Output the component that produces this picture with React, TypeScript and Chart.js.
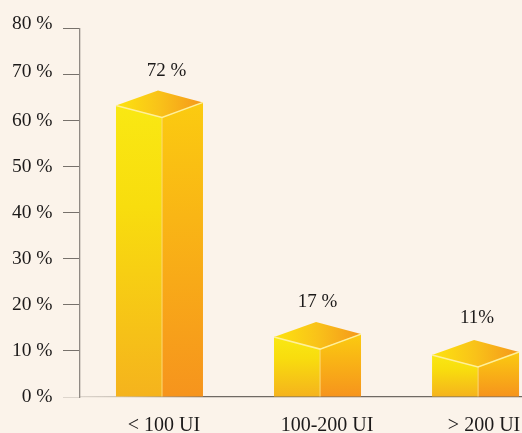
import React, { useEffect, useRef } from "react";
import { Chart, registerables } from "chart.js";

Chart.register(...registerables);

const categories = ["< 100 UI", "100-200 UI", "> 200 UI"];
const categoryIndex = [0, 1, 2];
const drawnHeights = [60.7, 10.4, 6.5];
const valueLabels = ["72 %", "17 %", "11%"];
const yTicks = [0, 10, 20, 30, 40, 50, 60, 70, 80];

const BG = "#fbf3ea";
const TEXT = "#1c1a1a";
const FONT = "'Liberation Serif', serif";

const labelShift = [
  { x: 7, y: 19 },
  { x: 0, y: 20 },
  { x: 1.5, y: 22 },
];

const prism = {
  id: "prism",
  afterDatasetsDraw(chart: any) {
    const { ctx } = chart;
    chart.getDatasetMeta(0).data.forEach((bar: any, i: number) => {
      const left = bar.x - bar.width / 2;
      const right = bar.x + bar.width / 2;
      const ridge = left + bar.width * 0.529;
      const y = bar.y;
      const base = bar.base;
      const leftY = y - 12;
      const rightY = y - 15;
      const backX = ridge - 4;
      const backY = y - 27;

      const poly = (pts: number[][], fill: any) => {
        ctx.beginPath();
        pts.forEach((p, k) => (k ? ctx.lineTo(p[0], p[1]) : ctx.moveTo(p[0], p[1])));
        ctx.closePath();
        ctx.fillStyle = fill;
        ctx.fill();
      };

      ctx.save();
      const gf = ctx.createLinearGradient(0, leftY, 0, base);
      gf.addColorStop(0, "#f9e813");
      gf.addColorStop(0.35, "#f8dd0e");
      gf.addColorStop(1, "#f5b31d");
      poly([[left, leftY], [ridge, y], [ridge, base], [left, base]], gf);

      const gr = ctx.createLinearGradient(0, rightY, 0, base);
      gr.addColorStop(0, "#fbcb10");
      gr.addColorStop(1, "#f6941d");
      poly([[ridge, y], [right, rightY], [right, base], [ridge, base]], gr);

      const gt = ctx.createLinearGradient(left, 0, right, 0);
      gt.addColorStop(0, "#fde40f");
      gt.addColorStop(0.5, "#f9c219");
      gt.addColorStop(1, "#f5971b");
      poly([[left, leftY], [backX, backY], [right, rightY], [ridge, y]], gt);

      ctx.strokeStyle = "#fbd976";
      ctx.lineWidth = 1;
      ctx.beginPath();
      ctx.moveTo(ridge, y);
      ctx.lineTo(ridge, base);
      ctx.stroke();

      ctx.strokeStyle = "#fff09a";
      ctx.lineWidth = 1.5;
      ctx.beginPath();
      ctx.moveTo(left, leftY);
      ctx.lineTo(ridge, y);
      ctx.lineTo(right, rightY);
      ctx.stroke();

      ctx.fillStyle = TEXT;
      ctx.font = `19px ${FONT}`;
      ctx.textAlign = "center";
      ctx.textBaseline = "middle";
      ctx.fillText(valueLabels[i], bar.x + labelShift[i].x, backY - labelShift[i].y);
      ctx.restore();
    });
  },
};

// The two top labels sit a little above their ticks in the reference.
const raisedLabel: Record<number, string> = { 80: "10px", 70: "6px" };

export default function App() {
  const ref = useRef<HTMLCanvasElement>(null);
  useEffect(() => {
    document.body.style.margin = "0";
    document.body.style.background = BG;
    const canvas = ref.current!;
    const ctx = canvas.getContext("2d")!;
    const axisFade = ctx.createLinearGradient(80, 0, 205, 0);
    axisFade.addColorStop(0, "#ddd5cc");
    axisFade.addColorStop(0.3, "#ccc4bb");
    axisFade.addColorStop(1, "#6f6963");

    const chart = new Chart(canvas, {
      type: "bar",
      data: {
        datasets: [
          {
            data: categoryIndex.map((x, i) => ({ x, y: drawnHeights[i] })),
            backgroundColor: "transparent",
            barThickness: 87,
          },
        ],
      },
      plugins: [prism],
      options: {
        animation: false,
        responsive: false,
        layout: { padding: { top: 28.5, left: 0, right: 0, bottom: 0 } },
        plugins: { legend: { display: false }, tooltip: { enabled: false } },
        scales: {
          x: {
            type: "linear",
            offset: false,
            min: -0.503,
            max: 2.294,
            z: 1,
            grid: { display: false, offset: false },
            border: { color: axisFade as any, width: 1.3 },
            afterBuildTicks(axis: any) {
              axis.ticks = [0.0285, 1.0601, 2.0538].map((value) => ({ value }));
            },
            afterFit(axis: any) {
              axis.height = 36;
              axis.paddingLeft = 0;
              axis.paddingRight = 0;
            },
            ticks: {
              autoSkip: false,
              maxRotation: 0,
              padding: 9,
              color: TEXT,
              font: { family: FONT, size: 20 },
              callback: (_v: any, i: number) => categories[i],
            },
          },
          y: {
            type: "linear",
            min: 0,
            max: 80,
            afterBuildTicks(axis: any) {
              axis.ticks = yTicks.map((value) => ({ value }));
            },
            afterFit(axis: any) {
              axis.width = 80;
              axis.paddingTop = 0;
              axis.paddingBottom = 0;
            },
            border: { color: "#8f8983", width: 1.3 },
            grid: {
              drawOnChartArea: false,
              tickLength: 17,
              tickColor: (c: any) => (c.index === 0 ? "#ddd5cc" : "#77716b"),
              tickWidth: 1,
            },
            ticks: {
              padding: 10.5,
              color: TEXT,
              font: (c: any) => {
                const lh = c.tick ? raisedLabel[c.tick.value] : undefined;
                return { family: FONT, size: 19.5, lineHeight: lh ?? 1.2 };
              },
              callback: (v: any) => (raisedLabel[v] ? [`${v} %`, ""] : `${v} %`),
            },
          },
        },
      },
    } as any);
    return () => chart.destroy();
  }, []);
  return (
    <canvas ref={ref} width={522} height={433} style={{ display: "block", width: 522, height: 433 }} />
  );
}
